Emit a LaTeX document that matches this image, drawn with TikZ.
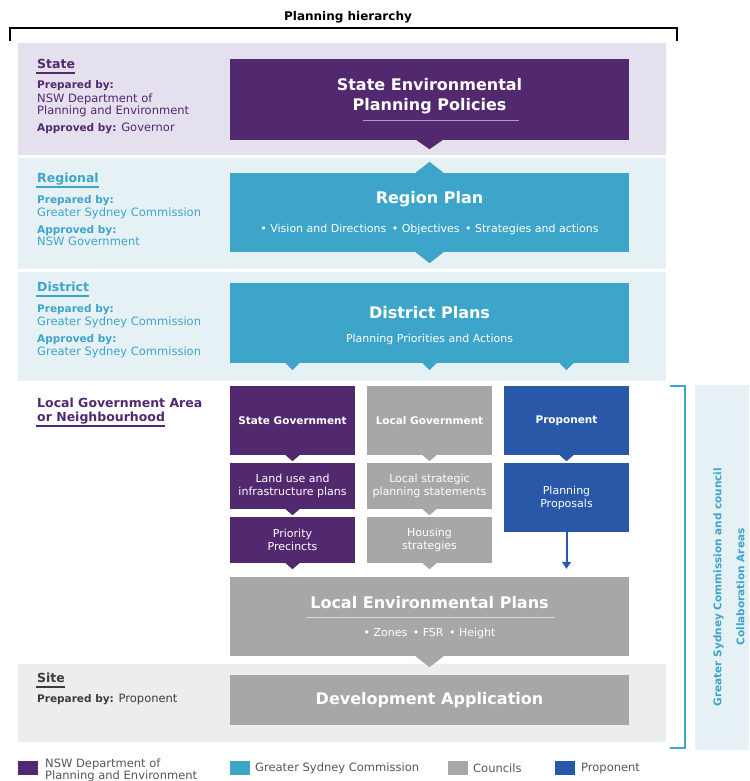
\documentclass[tikz,border=0pt]{standalone}
\usepackage{fontspec}
\setmainfont{DejaVu Sans}
\usetikzlibrary{arrows.meta}

\definecolor{nswpurple}{HTML}{52286F}
\definecolor{gscblue}{HTML}{3DA5C9}
\definecolor{councilgrey}{HTML}{A6A7A9}
\definecolor{propblue}{HTML}{2A58A8}
\definecolor{stateband}{HTML}{E5E0EE}
\definecolor{gscband}{HTML}{E6F1F5}
\definecolor{siteband}{HTML}{ECEDED}
\definecolor{sitetext}{HTML}{3C3C3C}
\definecolor{keytext}{HTML}{555555}

\tikzstyle{bigbox} = [rectangle, minimum width=399pt, inner sep=0, text=white, align=center, font=\bfseries\fontsize{16}{20}\selectfont]
\tikzstyle{boxtitle} = [inner sep=0, text=white, align=center, font=\bfseries\fontsize{16}{20}\selectfont]
\tikzstyle{boxsub} = [inner sep=0, text=white, font=\fontsize{11}{13}\selectfont]
\tikzstyle{colbox} = [rectangle, minimum width=125pt, inner sep=0, text=white, align=center, font=\fontsize{11}{13}\selectfont]
\tikzstyle{colhead} = [font=\bfseries\fontsize{10.5}{13}\selectfont]
\tikzstyle{head} = [anchor=base west, inner sep=0, font=\bfseries\fontsize{12.5}{14}\selectfont]
\tikzstyle{lbl} = [anchor=base west, inner sep=0, font=\fontsize{11.5}{13}\selectfont]
\tikzstyle{lblbold} = [anchor=base west, inner sep=0, font=\bfseries\fontsize{10.5}{13}\selectfont]
\tikzstyle{key} = [rectangle, minimum width=20pt, minimum height=14pt, inner sep=0]
\tikzstyle{keylbl} = [anchor=west, inner sep=0, text=keytext, align=left, font=\fontsize{11.5}{12}\selectfont]
\tikzstyle{arrow} = [line width=2pt, -{Triangle[length=7pt,width=9pt]}, shorten >=8pt]

% pointers under / over the boxes
\newcommand{\pointdown}[4]{\fill[#1] ([xshift=-#3]#2) -- ([xshift=#3]#2) -- ([yshift=-#4]#2) -- cycle;}
\newcommand{\pointup}[4]{\fill[#1] ([xshift=-#3]#2) -- ([xshift=#3]#2) -- ([yshift=#4]#2) -- cycle;}

\begin{document}
\begin{tikzpicture}[x=1pt, y=-1pt]
\useasboundingbox (0,0) rectangle (749,781);

% bands
\fill[stateband] (18,43) rectangle (666,155);
\fill[gscband] (18,158) rectangle (666,269);
\fill[gscband] (18,272) rectangle (666,381);
\fill[siteband] (18,664) rectangle (666,742);
\fill[gscband] (695,385) rectangle (749,750);

% title
\node (title) at (348,17) [inner sep=0, font=\bfseries\fontsize{12}{14}\selectfont] {Planning hierarchy};
\draw[line width=2pt] (10,41) -- (10,28) -- (677,28) -- (677,41);

% objects
\node (sepp) at (429.5,99.5) [bigbox, fill=nswpurple, minimum height=81pt] {};
\node (sepp-t) at (429.5,96) [boxtitle] {State Environmental\\Planning Policies};
\draw[white!55!nswpurple, line width=1pt] (363,121) -- (519,121);

\node (reg) at (429.5,212.5) [bigbox, fill=gscblue, minimum height=79pt] {};
\node (reg-t) at (429.5,199) [boxtitle] {Region Plan};
\node (reg-s) at (429.5,229) [boxsub] {• Vision and Directions\enspace • Objectives\enspace • Strategies and actions};

\node (dist) at (429.5,323) [bigbox, fill=gscblue, minimum height=80pt] {};
\node (dist-t) at (429.5,313) [boxtitle] {District Plans};
\node (dist-s) at (429.5,339) [boxsub] {Planning Priorities and Actions};

\node (sg) at (292.5,420.5) [colbox, colhead, fill=nswpurple, minimum height=69pt] {State Government};
\node (lg) at (429.5,420.5) [colbox, colhead, fill=councilgrey, minimum height=69pt] {Local Government};
\node (prop) at (566.5,420.5) [colbox, colhead, fill=propblue, minimum height=69pt] {Proponent};

\node (landuse) at (292.5,486) [colbox, fill=nswpurple, minimum height=46pt] {Land use and\\infrastructure plans};
\node (lsps) at (429.5,486) [colbox, fill=councilgrey, minimum height=46pt] {Local strategic\\planning statements};
\node (pp) at (566.5,497.5) [colbox, fill=propblue, minimum height=69pt] {Planning\\Proposals};

\node (prec) at (292.5,540) [colbox, fill=nswpurple, minimum height=46pt] {Priority\\Precincts};
\node (housing) at (429.5,540) [colbox, fill=councilgrey, minimum height=46pt] {Housing\\strategies};

\node (lep) at (429.5,616.5) [bigbox, fill=councilgrey, minimum height=79pt] {};
\node (lep-t) at (429.5,603) [boxtitle] {Local Environmental Plans};
\draw[white!55!councilgrey, line width=1pt] (306,617) -- (555,617);
\node (lep-s) at (429.5,633) [boxsub] {• Zones\enspace • FSR\enspace • Height};

\node (da) at (429.5,700) [bigbox, fill=councilgrey, minimum height=50pt] {Development Application};

% pointers
\pointdown{nswpurple}{sepp.south}{13pt}{9pt}
\pointup{gscblue}{reg.north}{14pt}{11pt}
\pointdown{gscblue}{reg.south}{14pt}{11pt}
\coordinate (d1) at (sg |- dist.south);
\coordinate (d3) at (prop |- dist.south);
\pointdown{gscblue}{d1}{7pt}{7pt}
\pointdown{gscblue}{dist.south}{7pt}{7pt}
\pointdown{gscblue}{d3}{7pt}{7pt}
\pointdown{nswpurple}{sg.south}{7pt}{6pt}
\pointdown{councilgrey}{lg.south}{7pt}{6pt}
\pointdown{propblue}{prop.south}{7pt}{6pt}
\pointdown{nswpurple}{landuse.south}{7pt}{6pt}
\pointdown{councilgrey}{lsps.south}{7pt}{6pt}
\pointdown{nswpurple}{prec.south}{7pt}{6pt}
\pointdown{councilgrey}{housing.south}{7pt}{6pt}
\pointdown{councilgrey}{lep.south}{14pt}{11pt}

% arrows
\draw [arrow, propblue] (pp) -- (pp |- lep.north);

% left labels
\node (st-h) at (37,69) [head, text=nswpurple] {State};
\draw[nswpurple, line width=1.5pt] (36,73) -- (st-h.base east |- 0,73);
\node (st-p) at (37,88.5) [lblbold, text=nswpurple] {Prepared by:};
\node (st-p1) at (37,102.5) [lbl, text=nswpurple] {NSW Department of};
\node (st-p2) at (37,115) [lbl, text=nswpurple] {Planning and Environment};
\node (st-a) at (37,131.5) [lbl, text=nswpurple] {{\bfseries\fontsize{10.5}{13}\selectfont Approved by:} Governor};

\node (rg-h) at (37,182) [head, text=gscblue] {Regional};
\draw[gscblue, line width=1.5pt] (36,187) -- (rg-h.base east |- 0,187);
\node (rg-p) at (37,203) [lblbold, text=gscblue] {Prepared by:};
\node (rg-p1) at (37,216.5) [lbl, text=gscblue] {Greater Sydney Commission};
\node (rg-a) at (37,233) [lblbold, text=gscblue] {Approved by:};
\node (rg-a1) at (37,245.5) [lbl, text=gscblue] {NSW Government};

\node (ds-h) at (37,291) [head, text=gscblue] {District};
\draw[gscblue, line width=1.5pt] (36,296) -- (ds-h.base east |- 0,296);
\node (ds-p) at (37,312) [lblbold, text=gscblue] {Prepared by:};
\node (ds-p1) at (37,325.5) [lbl, text=gscblue] {Greater Sydney Commission};
\node (ds-a) at (37,342) [lblbold, text=gscblue] {Approved by:};
\node (ds-a1) at (37,355) [lbl, text=gscblue] {Greater Sydney Commission};

\node (lga-h1) at (37,407.5) [head, text=nswpurple] {Local Government Area};
\node (lga-h2) at (37,421) [head, text=nswpurple] {or Neighbourhood};
\draw[nswpurple, line width=1.5pt] (36,426) -- (lga-h2.base east |- 0,426);

\node (si-h) at (37,682.5) [head, text=sitetext] {Site};
\draw[sitetext, line width=1.5pt] (36,687) -- (si-h.base east |- 0,687);
\node (si-p) at (37,702.5) [lbl, text=sitetext] {{\bfseries\fontsize{10.5}{13}\selectfont Prepared by:} Proponent};

% collaboration areas
\draw[gscblue, line width=2pt] (670,386) -- (685,386) -- (685,748) -- (670,748);
\node (collab) at (729,587) [rotate=90, inner sep=0, text=gscblue, align=center, font=\bfseries\fontsize{10.5}{23}\selectfont] {Greater Sydney Commission and council\\Collaboration Areas};

% key
\node (k1) at (28,768) [key, fill=nswpurple] {};
\node (k1-t) at (45,770) [keylbl] {NSW Department of\\Planning and Environment};
\node (k2) at (239.5,768) [key, fill=gscblue] {};
\node (k2-t) at (255,768) [keylbl] {Greater Sydney Commission};
\node (k3) at (458,768) [key, fill=councilgrey] {};
\node (k3-t) at (473,768) [keylbl] {Councils};
\node (k4) at (565,768) [key, fill=propblue] {};
\node (k4-t) at (581,768) [keylbl] {Proponent};

\end{tikzpicture}
\end{document}
